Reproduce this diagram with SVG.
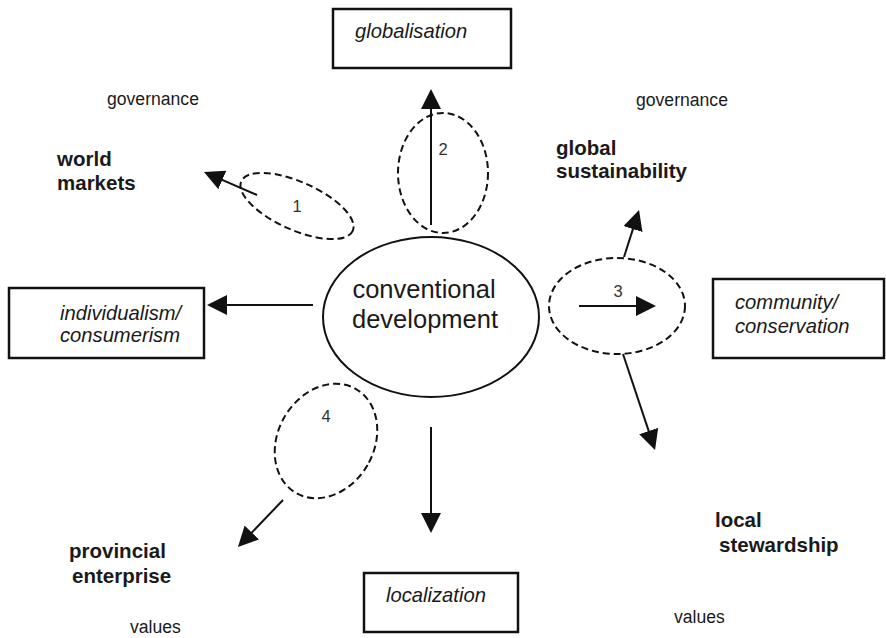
<svg xmlns="http://www.w3.org/2000/svg" width="886" height="638" viewBox="0 0 886 638">
  <style>
    text { font-family: "Liberation Sans", Arial, sans-serif; fill: #1a1a1a; }
    .box { fill: #fff; stroke: #111; stroke-width: 2.5; }
    .boxlabel { font-size: 20.2px; font-style: italic; }
    .theme { font-size: 20.5px; font-weight: bold; }
    .small { font-size: 17.6px; }
    .num { font-size: 16.5px; fill: #333; }
    .centre { fill: #fff; stroke: #111; stroke-width: 2; }
    .zone { fill: none; stroke: #111; stroke-width: 2; stroke-dasharray: 7 4; }
    .arrow { stroke: #111; stroke-width: 2; fill: none; marker-end: url(#head); }
  </style>
  <defs>
    <marker id="head" viewBox="0 0 20 20" markerWidth="20" markerHeight="20" refX="12" refY="10" orient="auto" markerUnits="userSpaceOnUse">
      <path d="M0,0 L20,10 L0,20 z" fill="#111"/>
    </marker>
  </defs>
  <rect width="886" height="638" fill="#fff"/>

  <!-- dashed zones -->
  <g id="zone1">
    <ellipse class="zone" cx="297" cy="206" rx="61" ry="24" transform="rotate(24 297 206)"/>
    <text class="num" x="297" y="212" text-anchor="middle">1</text>
  </g>
  <g id="zone2">
    <ellipse class="zone" cx="443" cy="173" rx="45" ry="60"/>
    <text class="num" x="443" y="155" text-anchor="middle">2</text>
  </g>
  <g id="zone3">
    <ellipse class="zone" cx="617" cy="306" rx="68" ry="48"/>
    <text class="num" x="618" y="297" text-anchor="middle">3</text>
  </g>
  <g id="zone4">
    <ellipse class="zone" cx="326" cy="441" rx="48" ry="60" transform="rotate(30 326 441)"/>
    <text class="num" x="326" y="422" text-anchor="middle">4</text>
  </g>

  <!-- connectors -->
  <g id="connectors">
    <line class="arrow" x1="257" y1="195" x2="211.3" y2="175.2"/>
    <line class="arrow" x1="431" y1="225" x2="431" y2="97"/>
    <line class="arrow" x1="579" y1="306" x2="648" y2="306"/>
    <line class="arrow" x1="624" y1="257" x2="636.6" y2="217.6"/>
    <line class="arrow" x1="623" y1="354" x2="652.5" y2="442.4"/>
    <line class="arrow" x1="283" y1="500" x2="243.5" y2="541.2"/>
    <line class="arrow" x1="431" y1="427" x2="431" y2="525"/>
    <line class="arrow" x1="313" y1="305" x2="215" y2="305"/>
  </g>

  <!-- centre -->
  <g id="conventional-development">
    <ellipse class="centre" cx="431" cy="317" rx="108" ry="80"/>
    <text x="424" y="298" font-size="25.5" text-anchor="middle">conventional</text>
    <text x="425" y="328" font-size="25.5" text-anchor="middle">development</text>
  </g>

  <!-- boxed outcomes -->
  <g id="globalisation">
    <rect class="box" x="333" y="9" width="178" height="59"/>
    <text class="boxlabel" x="355" y="38">globalisation</text>
  </g>
  <g id="individualism">
    <rect class="box" x="9" y="288" width="195" height="70"/>
    <text class="boxlabel" x="60" y="320">individualism/</text>
    <text class="boxlabel" x="60" y="342">consumerism</text>
  </g>
  <g id="community">
    <rect class="box" x="713" y="279" width="171" height="79"/>
    <text class="boxlabel" x="735" y="309">community/</text>
    <text class="boxlabel" x="735" y="333">conservation</text>
  </g>
  <g id="localization">
    <rect class="box" x="364" y="573" width="154" height="59"/>
    <text class="boxlabel" x="386" y="602">localization</text>
  </g>

  <!-- quadrant labels -->
  <g id="world-markets">
    <text class="theme" x="57" y="166">world</text>
    <text class="theme" x="57" y="190">markets</text>
  </g>
  <g id="global-sustainability">
    <text class="theme" x="556" y="155">global</text>
    <text class="theme" x="556" y="178">sustainability</text>
  </g>
  <g id="provincial-enterprise">
    <text class="theme" x="69" y="558">provincial</text>
    <text class="theme" x="72" y="583">enterprise</text>
  </g>
  <g id="local-stewardship">
    <text class="theme" x="715" y="527">local</text>
    <text class="theme" x="719" y="552">stewardship</text>
  </g>

  <!-- axis labels -->
  <g id="governance-left"><text class="small" x="107" y="105">governance</text></g>
  <g id="governance-right"><text class="small" x="636" y="106">governance</text></g>
  <g id="values-left"><text class="small" x="130" y="633">values</text></g>
  <g id="values-right"><text class="small" x="674" y="623">values</text></g>
</svg>
